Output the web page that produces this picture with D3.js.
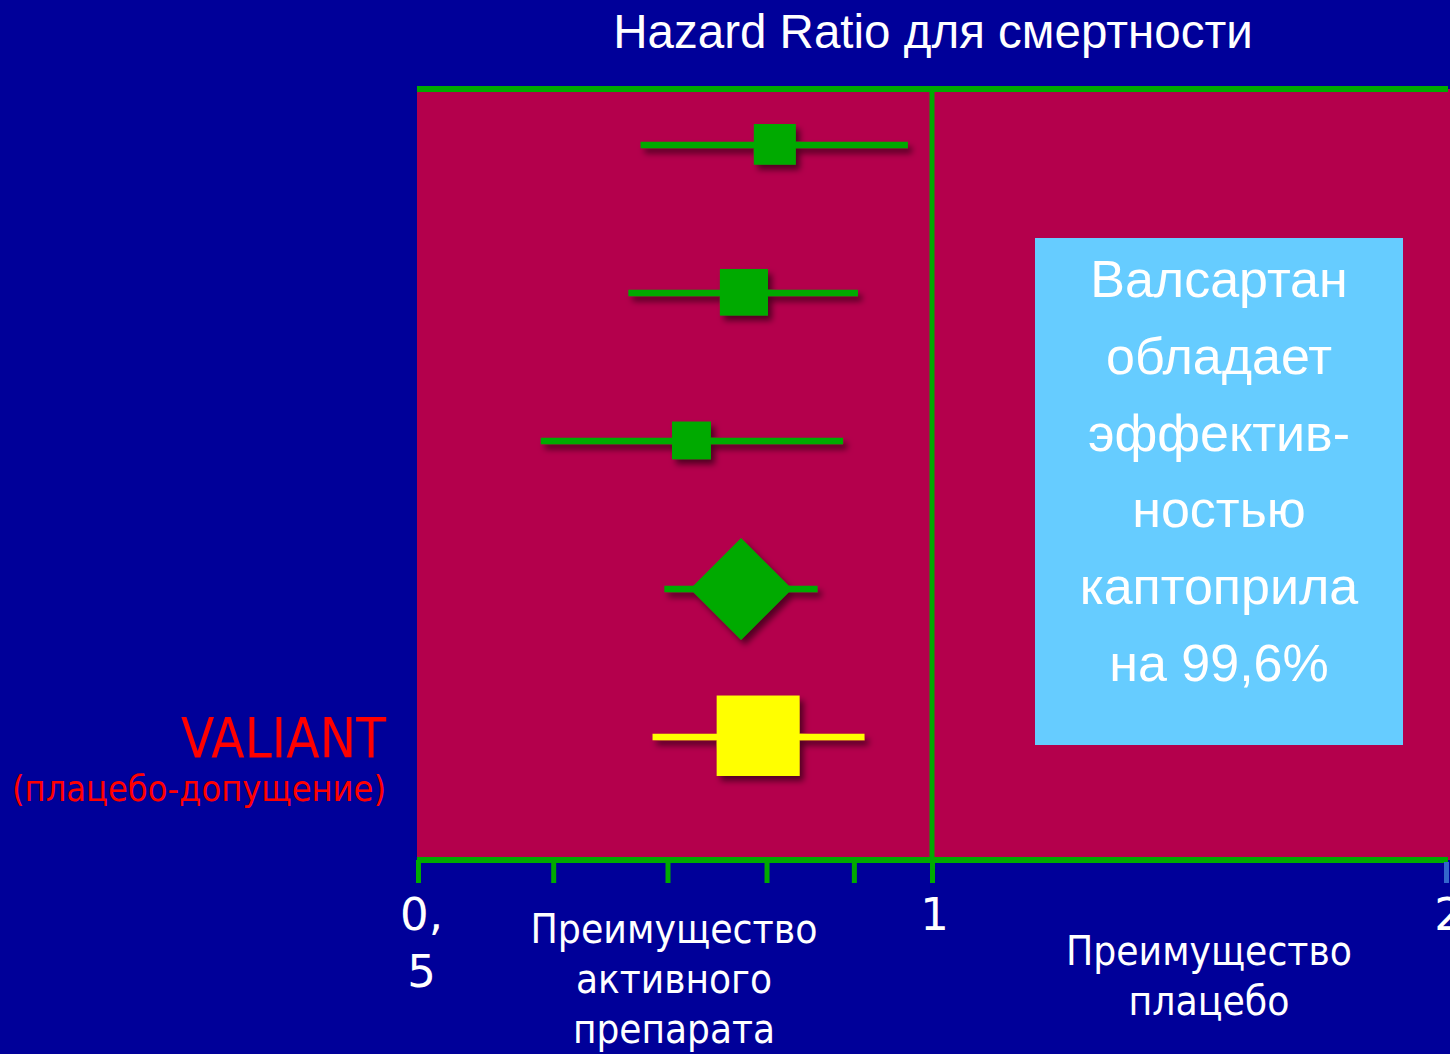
<!DOCTYPE html>
<html><head><meta charset="utf-8">
<script src="https://cdn.jsdelivr.net/npm/d3@7"></script>
<style>
html,body{margin:0;padding:0;background:#000099;}
svg{display:block;}
</style></head>
<body>
<script>
// ---- data ----
const rowIds = ["r1", "r2", "r3", "pooled", "valiant"];
const hr = [0.809, 0.776, 0.723, 0.773, 0.791];
const ciLow = [0.675, 0.664, 0.590, 0.697, 0.686];
const ciHigh = [0.968, 0.905, 0.887, 0.857, 0.913];
const weights = [1.0, 1.31, 0.86, 2.95, 3.9];
const markerTypes = ["square", "square", "square", "diamond", "square"];
const xTicks = [0.5, 0.6, 0.7, 0.8, 0.9, 1, 2];
const xTickLabels = ["0,\n5", "", "", "", "", "1", "2"];
const titleText = "Hazard Ratio для смертности";
const studyLabel = "VALIANT";
const studySubLabel = "(плацебо-допущение)";
const boxLines = ["Валсартан", "обладает", "эффектив-", "ностью", "каптоприла", "на 99,6%"];
const leftAxisNote = ["Преимущество", "активного", "препарата"];
const rightAxisNote = ["Преимущество", "плацебо"];

// ---- layout ----
const W = 1450, H = 1054;
const plot = {x0: 417, x1: 1450, y0: 89, y1: 860};
const GREEN = "#00AA00", CRIMSON = "#B4004C", YELLOW = "#FFFF00";
const svg = d3.select("body").append("svg").attr("width", W).attr("height", H);
svg.append("rect").attr("width", W).attr("height", H).attr("fill", "#000099");

const defs = svg.append("defs");
const f = defs.append("filter").attr("id", "sh").attr("x", "-30%").attr("y", "-30%").attr("width", "160%").attr("height", "160%");
f.append("feDropShadow").attr("dx", 4).attr("dy", 5).attr("stdDeviation", 3)
  .attr("flood-color", "#000").attr("flood-opacity", 0.55);

const x = d3.scaleLog().domain([0.5, 2]).range([418, 1446]);
const y = d3.scalePoint().domain(rowIds).range([145, 737]);
const size = d3.scaleSqrt().domain([0, 1]).range([0, 42]);

// plot background
svg.append("rect").attr("x", plot.x0).attr("y", plot.y0)
  .attr("width", plot.x1 - plot.x0).attr("height", plot.y1 - plot.y0).attr("fill", CRIMSON);

// annotation box
const box = svg.append("g");
box.append("rect").attr("x", 1035).attr("y", 238).attr("width", 368).attr("height", 507).attr("fill", "#66CCFF");
box.selectAll("text").data(boxLines).join("text")
  .attr("x", 1219).attr("y", (d, i) => 297 + i * 76.8)
  .attr("text-anchor", "middle").attr("fill", "#fff")
  .attr("font-family", "'Liberation Sans', Arial, sans-serif").attr("font-size", 52)
  .text(d => d);

// frame lines
svg.append("line").attr("x1", plot.x0).attr("x2", 1448).attr("y1", plot.y0).attr("y2", plot.y0)
  .attr("stroke", GREEN).attr("stroke-width", 6);
svg.append("line").attr("x1", x(1)).attr("x2", x(1)).attr("y1", plot.y0).attr("y2", plot.y1)
  .attr("stroke", GREEN).attr("stroke-width", 5);

// x axis
const axis = d3.axisBottom(x).tickValues(xTicks).tickSize(23).tickFormat("");
const ag = svg.append("g").attr("transform", `translate(0,${plot.y1})`).call(axis);
ag.select(".domain").remove();
ag.insert("line", ":first-child").attr("x1", plot.x0).attr("x2", 1448).attr("y1", 0).attr("y2", 0)
  .attr("stroke", GREEN).attr("stroke-width", 6);
ag.selectAll(".tick line").attr("stroke", d => d === 2 ? "#3366CC" : GREEN).attr("stroke-width", 5)
  .attr("y1", d => d === 2 ? 2 : 0);
ag.selectAll(".tick").each(function(d, i) {
  const lab = xTickLabels[i];
  if (!lab) return;
  const t = d3.select(this).append("text").attr("fill", "#fff").attr("text-anchor", "middle")
    .attr("font-family", "'DejaVu Sans', sans-serif").attr("font-size", 45);
  lab.split("\n").forEach((s, k) => {
    t.append("tspan").attr("x", d === 0.5 ? 3 : 2).attr("y", 70 + k * 57).text(s);
  });
});

// marks
const mg = svg.append("g").attr("filter", "url(#sh)");
rowIds.forEach((id, i) => {
  const col = i === rowIds.length - 1 ? YELLOW : GREEN;
  const cy = y(id);
  mg.append("line").attr("x1", x(ciLow[i])).attr("x2", x(ciHigh[i]))
    .attr("y1", cy).attr("y2", cy).attr("stroke", col).attr("stroke-width", 6.5);
  const s = size(weights[i]);
  const cx = x(hr[i]);
  if (markerTypes[i] === "diamond") {
    const h = s / Math.SQRT2;
    mg.append("path").attr("d", `M${cx},${cy - h}L${cx + h},${cy}L${cx},${cy + h}L${cx - h},${cy}Z`).attr("fill", col);
  } else {
    mg.append("rect").attr("x", cx - s / 2).attr("y", cy - s / 2).attr("width", s).attr("height", s * 0.97).attr("fill", col);
  }
});

// title
svg.append("text").attr("x", 933).attr("y", 48).attr("text-anchor", "middle").attr("fill", "#fff")
  .attr("font-family", "'Liberation Sans', Arial, sans-serif").attr("font-size", 47.5).text(titleText);

// study label
svg.append("text").attr("x", 386).attr("y", 757).attr("text-anchor", "end").attr("fill", "#FF0000")
  .attr("font-family", "'DejaVu Sans', sans-serif").attr("font-size", 56)
  .attr("textLength", 205).attr("lengthAdjust", "spacingAndGlyphs").text(studyLabel);
svg.append("text").attr("x", 386).attr("y", 801).attr("text-anchor", "end").attr("fill", "#FF0000")
  .attr("font-family", "'DejaVu Sans', sans-serif").attr("font-size", 35)
  .attr("textLength", 374).attr("lengthAdjust", "spacingAndGlyphs").text(studySubLabel);

// axis notes
const leftW = [287, 196, 202], rightW = [286, 161];
svg.append("g").selectAll("text").data(leftAxisNote).join("text")
  .attr("x", 674).attr("y", (d, i) => 943 + i * 50).attr("text-anchor", "middle").attr("fill", "#fff")
  .attr("font-family", "'DejaVu Sans', sans-serif").attr("font-size", 41)
  .attr("textLength", (d, i) => leftW[i]).attr("lengthAdjust", "spacingAndGlyphs").text(d => d);
svg.append("g").selectAll("text").data(rightAxisNote).join("text")
  .attr("x", 1209).attr("y", (d, i) => 965 + i * 50).attr("text-anchor", "middle").attr("fill", "#fff")
  .attr("font-family", "'DejaVu Sans', sans-serif").attr("font-size", 41)
  .attr("textLength", (d, i) => rightW[i]).attr("lengthAdjust", "spacingAndGlyphs").text(d => d);
</script>
</body></html>
